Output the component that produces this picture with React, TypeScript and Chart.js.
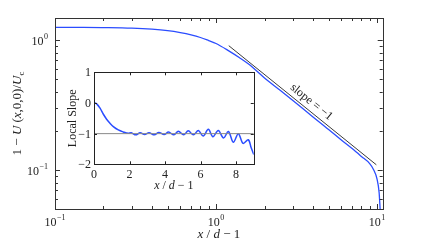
import React, { useEffect, useRef } from "react";
import { Chart, registerables } from "chart.js";

Chart.register(...registerables);

// ---- Main chart data ----
const mainX = [0.1, 0.15, 0.2, 0.3, 0.4, 0.5, 0.6, 0.7, 0.8, 0.9, 1.0, 1.2, 1.4, 1.6, 2, 2.5, 3, 4, 5, 6, 7, 8, 9, 9.5, 10, 10.3, 10.45];
const mainY = [1.25, 1.25, 1.245, 1.232, 1.21, 1.18, 1.14, 1.095, 1.045, 0.99, 0.94, 0.825, 0.73, 0.65, 0.51, 0.41, 0.342, 0.256, 0.205, 0.17, 0.146, 0.127, 0.112, 0.101, 0.085, 0.067, 0.05];
const slopeX = [1.2, 9.9];
const slopeY = [0.904, 0.1096];
const slopeLabelX = 3.64;
const mainXTicks = [0.1, 1, 10];
const mainXExp = ["\u22121", "0", "1"];
const mainYTicks = [0.1, 1];
const mainYExp = ["\u22121", "0"];
const mainXMinor = [0.2, 0.3, 0.4, 0.5, 0.6, 0.7, 0.8, 0.9, 2, 3, 4, 5, 6, 7, 8, 9];
const mainYMinor = [0.06, 0.07, 0.08, 0.09, 0.2, 0.3, 0.4, 0.5, 0.6, 0.7, 0.8, 0.9];

// ---- Inset data ----
const insetX = [0, 0.15, 0.34, 0.52, 0.71, 0.9, 1.09, 1.37, 1.65, 1.93, 2.1, 2.35, 2.6, 2.85, 3.1, 3.4, 3.65, 3.95, 4.2, 4.5, 4.75, 5.05, 5.31, 5.6, 5.88, 6.15, 6.44, 6.7, 7.0, 7.3, 7.57, 7.85, 8.13, 8.4, 8.69, 8.85, 9.0];
const insetY = [0.01, -0.03, -0.17, -0.36, -0.53, -0.66, -0.77, -0.88, -0.945, -0.99, -0.97, -1.04, -0.97, -1.03, -0.97, -1.04, -0.96, -1.03, -0.95, -1.04, -0.92, -1.04, -0.91, -1.04, -0.9, -1.08, -0.86, -1.1, -0.9, -1.14, -0.93, -1.28, -1.0, -1.32, -1.2, -1.45, -1.68];
const refX = [0, 9];
const refY = [-1, -1];
const insetXTicks = [0, 2, 4, 6, 8];
const insetYTicks = [1, 0, -1, -2];

const FONT = '"Liberation Serif", "Times New Roman", serif';
const BLUE = "#2b4dff";
const FRAME = "#333333";

type Seg = { t: string; it?: boolean; sub?: boolean; size?: number };

function drawRich(ctx: CanvasRenderingContext2D, segs: Seg[], x: number, y: number, size: number) {
  const fontOf = (s: Seg) => `${s.it ? "italic " : ""}${s.sub ? Math.round(size * 0.7) : size}px ${FONT}`;
  let total = 0;
  const widths = segs.map((s) => {
    ctx.font = fontOf(s);
    const w = ctx.measureText(s.t).width;
    total += w;
    return w;
  });
  let cx = x - total / 2;
  ctx.textAlign = "left";
  ctx.textBaseline = "alphabetic";
  segs.forEach((s, i) => {
    ctx.font = fontOf(s);
    ctx.fillText(s.t, cx, s.sub ? y + size * 0.25 : y);
    cx += widths[i];
  });
}

function drawPow(ctx: CanvasRenderingContext2D, exp: string, x: number, baseline: number, align: "center" | "right") {
  ctx.textBaseline = "alphabetic";
  ctx.textAlign = "left";
  ctx.font = `12px ${FONT}`;
  const wb = ctx.measureText("10").width;
  ctx.font = `8px ${FONT}`;
  const we = ctx.measureText(exp).width;
  const total = wb + we + 0.5;
  const start = align === "center" ? x - total / 2 : x - total;
  ctx.font = `12px ${FONT}`;
  ctx.fillText("10", start, baseline);
  ctx.font = `8px ${FONT}`;
  ctx.fillText(exp, start + wb + 0.5, baseline - 6);
}

const mainPlugin = {
  id: "mainDecor",
  afterDraw(chart: any) {
    const { ctx, chartArea } = chart;
    const { left, top, right, bottom } = chartArea;
    const xs = chart.scales.x;
    const ys = chart.scales.y;
    ctx.save();
    ctx.strokeStyle = FRAME;
    ctx.fillStyle = "#222";
    ctx.lineWidth = 1;
    ctx.strokeRect(Math.round(left) + 0.5, Math.round(top) + 0.5, Math.round(right - left), Math.round(bottom - top));
    const tickX = (v: number, len: number) => {
      const px = Math.round(xs.getPixelForValue(v)) + 0.5;
      ctx.beginPath();
      ctx.moveTo(px, bottom);
      ctx.lineTo(px, bottom - len);
      ctx.moveTo(px, top);
      ctx.lineTo(px, top + len);
      ctx.stroke();
    };
    const tickY = (v: number, len: number) => {
      const py = Math.round(ys.getPixelForValue(v)) + 0.5;
      ctx.beginPath();
      ctx.moveTo(left, py);
      ctx.lineTo(left + len, py);
      ctx.moveTo(right, py);
      ctx.lineTo(right - len, py);
      ctx.stroke();
    };
    mainXMinor.forEach((v) => tickX(v, 3));
    mainXTicks.forEach((v) => tickX(v, 5));
    mainYMinor.forEach((v) => tickY(v, 3));
    mainYTicks.forEach((v) => tickY(v, 5));
    // tick labels
    mainXTicks.forEach((v, i) => drawPow(ctx, mainXExp[i], xs.getPixelForValue(v), bottom + 17, "center"));
    mainYTicks.forEach((v, i) => drawPow(ctx, mainYExp[i], left - 7, ys.getPixelForValue(v) + 5, "right"));
    // axis titles
    drawRich(ctx, [{ t: "x", it: true }, { t: " / " }, { t: "d", it: true }, { t: " \u2212 1" }], (left + right) / 2, 238, 13);
    ctx.save();
    ctx.translate(21, (top + bottom) / 2);
    ctx.rotate(-Math.PI / 2);
    drawRich(
      ctx,
      [{ t: "1 \u2212 " }, { t: "U", it: true }, { t: " (" }, { t: "x", it: true }, { t: ",0,0)/" }, { t: "U", it: true }, { t: "c", sub: true }],
      0,
      0,
      13
    );
    ctx.restore();
    // slope label
    const p1x = xs.getPixelForValue(slopeX[0]);
    const p1y = ys.getPixelForValue(slopeY[0]);
    const p2x = xs.getPixelForValue(slopeX[1]);
    const p2y = ys.getPixelForValue(slopeY[1]);
    const ang = Math.atan2(p2y - p1y, p2x - p1x);
    const c = slopeX[0] * slopeY[0];
    const lx = xs.getPixelForValue(slopeLabelX);
    const ly = ys.getPixelForValue(c / slopeLabelX);
    const off = 8;
    ctx.translate(lx + Math.sin(ang) * off, ly - Math.cos(ang) * off);
    ctx.rotate(ang);
    ctx.font = `12px ${FONT}`;
    ctx.textAlign = "center";
    ctx.textBaseline = "middle";
    ctx.fillText("slope = \u22121", 0, 0);
    ctx.restore();
  },
};

const insetPlugin = {
  id: "insetDecor",
  afterDraw(chart: any) {
    const { ctx, chartArea } = chart;
    const { left, top, right, bottom } = chartArea;
    const xs = chart.scales.x;
    const ys = chart.scales.y;
    ctx.save();
    ctx.strokeStyle = "#222";
    ctx.fillStyle = "#222";
    ctx.lineWidth = 1;
    ctx.strokeRect(Math.round(left) + 0.5, Math.round(top) + 0.5, Math.round(right - left), Math.round(bottom - top));
    insetXTicks.forEach((v) => {
      const px = Math.round(xs.getPixelForValue(v)) + 0.5;
      ctx.beginPath();
      ctx.moveTo(px, bottom);
      ctx.lineTo(px, bottom - 3);
      ctx.moveTo(px, top);
      ctx.lineTo(px, top + 3);
      ctx.stroke();
    });
    insetYTicks.forEach((v) => {
      const py = Math.round(ys.getPixelForValue(v)) + 0.5;
      ctx.beginPath();
      ctx.moveTo(left, py);
      ctx.lineTo(left + 3, py);
      ctx.moveTo(right, py);
      ctx.lineTo(right - 3, py);
      ctx.stroke();
    });
    ctx.font = `12px ${FONT}`;
    ctx.textAlign = "center";
    ctx.textBaseline = "alphabetic";
    insetXTicks.forEach((v) => ctx.fillText(String(v), xs.getPixelForValue(v), bottom + 14));
    ctx.textAlign = "right";
    insetYTicks.forEach((v) => ctx.fillText(String(v).replace("-", "\u2212"), left - 3, ys.getPixelForValue(v) + 4));
    drawRich(ctx, [{ t: "x", it: true }, { t: " / " }, { t: "d", it: true }, { t: " \u2212 1" }], (left + right) / 2, bottom + 25, 12);
    ctx.save();
    ctx.translate(left - 21, (top + bottom) / 2);
    ctx.rotate(-Math.PI / 2);
    ctx.font = `12px ${FONT}`;
    ctx.textAlign = "center";
    ctx.textBaseline = "middle";
    ctx.fillText("Local Slope", 0, 0);
    ctx.restore();
    ctx.restore();
  },
};

export default function App() {
  const mainRef = useRef<HTMLCanvasElement>(null);
  const insetRef = useRef<HTMLCanvasElement>(null);

  useEffect(() => {
    const main = new Chart(mainRef.current!, {
      type: "scatter",
      data: {
        datasets: [
          {
            data: slopeX.map((x, i) => ({ x, y: slopeY[i] })),
            showLine: true,
            borderColor: "#3a3a3a",
            borderWidth: 1,
            pointRadius: 0,
          },
          {
            data: mainX.map((x, i) => ({ x, y: mainY[i] })),
            showLine: true,
            borderColor: BLUE,
            borderWidth: 1.3,
            pointRadius: 0,
            cubicInterpolationMode: "monotone",
          },
        ],
      },
      options: {
        responsive: false,
        animation: false,
        devicePixelRatio: 1,
        layout: { padding: { left: 55, top: 18, right: 41.3, bottom: 33 } },
        plugins: { legend: { display: false }, tooltip: { enabled: false } },
        scales: {
          x: { type: "logarithmic", min: 0.1, max: 10.84, display: false },
          y: { type: "logarithmic", min: 0.0501, max: 1.476, display: false },
        },
      },
      plugins: [mainPlugin],
    } as any);

    const inset = new Chart(insetRef.current!, {
      type: "scatter",
      data: {
        datasets: [
          {
            data: refX.map((x, i) => ({ x, y: refY[i] })),
            showLine: true,
            borderColor: "#8a8a8a",
            borderWidth: 1,
            pointRadius: 0,
          },
          {
            data: insetX.map((x, i) => ({ x, y: insetY[i] })),
            showLine: true,
            borderColor: BLUE,
            borderWidth: 1.5,
            pointRadius: 0,
            tension: 0.35,
          },
        ],
      },
      options: {
        responsive: false,
        animation: false,
        devicePixelRatio: 1,
        layout: { padding: { left: 34, top: 10.3, right: 6.25, bottom: 29.7 } },
        plugins: { legend: { display: false }, tooltip: { enabled: false } },
        scales: {
          x: { type: "linear", min: 0, max: 9, display: false },
          y: { type: "linear", min: -2, max: 1, display: false },
        },
      },
      plugins: [insetPlugin],
    } as any);

    return () => {
      main.destroy();
      inset.destroy();
    };
  }, []);

  return (
    <div style={{ position: "fixed", left: 0, top: 0, width: 424, height: 242, background: "#fff" }}>
      <canvas ref={mainRef} width={424} height={242} style={{ position: "absolute", left: 0, top: 0 }} />
      <canvas ref={insetRef} width={200} height={132} style={{ position: "absolute", left: 60, top: 62 }} />
    </div>
  );
}
